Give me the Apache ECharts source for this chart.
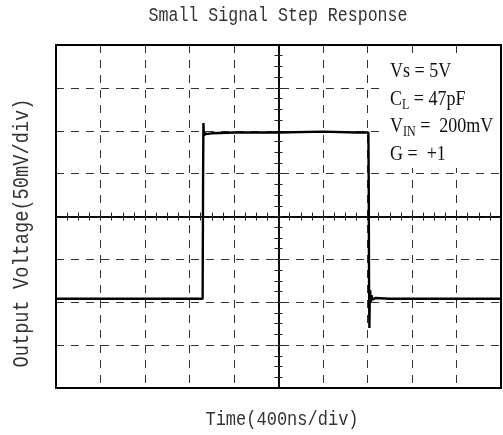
<!DOCTYPE html>
<html><head><meta charset="utf-8">
<script src="https://cdn.jsdelivr.net/npm/echarts@6/dist/echarts.min.js"></script>
<style>html,body{margin:0;padding:0;background:#fff}#c{width:503px;height:435px}</style>
</head><body><div id="c"></div>
<script>
// ---- text ----
const titleText = 'Small Signal Step Response';
const xName = 'Time(400ns/div)';
const yName = 'Output Voltage(50mV/div)';
const noteLines = [
  '{a|Vs = 5V}',
  '{a|C}{s|L}{a| = 47pF}',
  '{a|V}{s|IN}{a| =  200mV}',
  '{a|G =  +1}'
];
// ---- axes (time relative to screen centre, ns; voltage mV) ----
const xMin = -2000, xMax = 2000, xDiv = 400, xMinor = 100;
const yMin = -200, yMax = 200, yDiv = 50, yMinor = 12.5;
// ---- trace ----
const timeNs = [-2000, -1500, -1000, -700, -682, -678, -675, -672, -668, -664, -658, -650, -600, -400, 0, 400, 700, 808, 811, 814, 817, 820, 824, 829, 836, 846, 870, 1000, 1500, 2000];
const voltMv = [-96, -96, -96, -96, -96, 40, 109, 101, 94, 99, 96, 97, 97, 98, 98, 99, 98, 98, 40, -80, -130, -98, -86, -100, -92, -97, -95, -96, -96, -96];

const trace = timeNs.map((t, i) => [t, voltMv[i]]);

const chart = echarts.init(document.getElementById('c'), null, {renderer: 'canvas'});
const dashed = {show: true, lineStyle: {color: '#333', width: 1, type: [8, 7]}};
const mono = 'Liberation Mono';

function mainX() {
  return {type: 'value', min: xMin, max: xMax, interval: xDiv,
    axisLine: {show: false, onZero: false}, axisTick: {show: false}, axisLabel: {show: false}, splitLine: dashed};
}
function mainY() {
  return {type: 'value', min: yMin, max: yMax, interval: yDiv,
    axisLine: {show: false, onZero: false}, axisTick: {show: false}, axisLabel: {show: false}, splitLine: dashed};
}
function tickX(inside) {
  return {type: 'value', min: xMin, max: xMax, interval: xMinor,
    axisLine: {show: true, onZero: true, onZeroAxisIndex: 0, lineStyle: {color: '#000', width: 1.5}},
    axisTick: {show: true, inside: inside, length: 4, lineStyle: {color: '#222', width: 1}},
    axisLabel: {show: false}, splitLine: {show: false}};
}
function tickY(inside) {
  return {type: 'value', min: yMin, max: yMax, interval: yMinor,
    axisLine: {show: true, onZero: true, onZeroAxisIndex: 0, lineStyle: {color: '#000', width: 1.5}},
    axisTick: {show: true, inside: inside, length: 4, lineStyle: {color: '#222', width: 1}},
    axisLabel: {show: false}, splitLine: {show: false}};
}

const noteGraphics = noteLines.map((txt, i) => ({
  type: 'text', x: 390, y: 59 + i * 27.5, scaleY: 1.15, z: 20,
  style: {
    text: txt,
    rich: {
      a: {fontFamily: 'Liberation Serif', fontSize: 18, lineHeight: 22, fill: '#111'},
      s: {fontFamily: 'Liberation Serif', fontSize: 12, lineHeight: 12, verticalAlign: 'bottom', fill: '#111'}
    }
  }
}));

chart.setOption({
  animation: false,
  backgroundColor: '#fff',
  grid: {left: 56, right: 2, top: 45, bottom: 47, show: true, borderColor: '#000', borderWidth: 2, backgroundColor: 'transparent', z: 10},
  xAxis: [mainX(), tickX(true), tickX(false)],
  yAxis: [mainY(), tickY(true), tickY(false)],
  series: [{
    type: 'line', xAxisIndex: 0, yAxisIndex: 0, data: trace, showSymbol: false, symbol: 'none',
    lineStyle: {color: '#000', width: 2.4}, z: 15
  }],
  graphic: [
    {type: 'text', x: 278, y: 16, scaleX: 0.83, style: {text: titleText, fontFamily: mono, fontSize: 20, fill: '#333', align: 'center', verticalAlign: 'middle'}},
    {type: 'text', x: 282, y: 420, scaleX: 0.83, style: {text: xName, fontFamily: mono, fontSize: 20.5, fill: '#333', align: 'center', verticalAlign: 'middle'}},
    {type: 'text', x: 22, y: 233, rotation: Math.PI / 2, scaleX: 0.83, style: {text: yName, fontFamily: mono, fontSize: 22.5, fill: '#333', align: 'center', verticalAlign: 'middle'}},
    {type: 'rect', shape: {x: 386, y: 56, width: 114, height: 112}, style: {fill: '#fff'}, z: 12}
  ].concat(noteGraphics)
});
</script></body></html>
